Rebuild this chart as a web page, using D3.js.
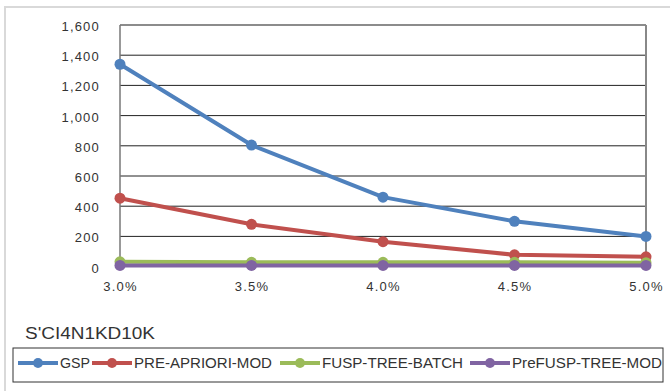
<!DOCTYPE html>
<html><head><meta charset="utf-8">
<script src="https://cdn.jsdelivr.net/npm/d3@7"></script>
<style>
html,body{margin:0;padding:0;background:#fff;}
svg{display:block;}
text{font-family:"Liberation Sans","DejaVu Sans",Arial,sans-serif;fill:#333;}
</style></head>
<body>
<svg id="chart" width="670" height="391"></svg>
<script>
const categories = ["3.0%", "3.5%", "4.0%", "4.5%", "5.0%"];
const seriesNames = ["GSP", "PRE-APRIORI-MOD", "FUSP-TREE-BATCH", "PreFUSP-TREE-MOD"];
const gsp = [1340, 805, 460, 300, 200];
const preApriori = [453, 280, 165, 78, 65];
const fuspBatch = [32, 28, 28, 28, 26];
const preFusp = [8, 8, 8, 8, 8];
const yTicks = [0, 200, 400, 600, 800, 1000, 1200, 1400, 1600];
const colors = ["#4F81BD", "#C0504D", "#9BBB59", "#8064A2"];
const chartTitle = "S'CI4N1KD10K";

const series = [gsp, preApriori, fuspBatch, preFusp];
const svg = d3.select("#chart");

// outer frame
svg.append("rect").attr("x", 5).attr("y", 7).attr("width", 700).attr("height", 420)
  .attr("fill", "none").attr("stroke", "#d9d9d9").attr("stroke-width", 2);

const L = 120, R = 646, T = 25, B = 266.6;
const x = d3.scalePoint().domain(categories).range([L, R]);
const y = d3.scaleLinear().domain([0, 1600]).range([B, T]);

// gridlines
svg.append("g").selectAll("line").data(yTicks.filter(d => d > 0 && d < 1600)).join("line")
  .attr("x1", L).attr("x2", R).attr("y1", d => y(d)).attr("y2", d => y(d))
  .attr("stroke", "#222").attr("stroke-width", 1);
// top and right border
svg.append("line").attr("x1", L).attr("x2", R).attr("y1", y(1600)).attr("y2", y(1600))
  .attr("stroke", "#666").attr("stroke-width", 1.5);
svg.append("line").attr("x1", R).attr("x2", R).attr("y1", T).attr("y2", B)
  .attr("stroke", "#888").attr("stroke-width", 2);
svg.append("line").attr("x1", L).attr("x2", L).attr("y1", T).attr("y2", B)
  .attr("stroke", "#777").attr("stroke-width", 1.5);

// y axis labels
const yAxis = d3.axisLeft(y).tickValues(yTicks).tickSize(0).tickPadding(20).tickFormat(d3.format(","));
const gy = svg.append("g").attr("transform", `translate(${L},0)`).call(yAxis);
gy.select(".domain").remove();
gy.selectAll("text").attr("font-size", 13).attr("fill", "#3a3a3a").attr("letter-spacing", "1.2px")
  .attr("dy", "0.42em").attr("font-family", "Liberation Sans, Arial, sans-serif");

// x axis labels
const xAxis = d3.axisBottom(x).tickSize(0).tickPadding(15);
const gx = svg.append("g").attr("transform", `translate(0,${B})`).call(xAxis);
gx.select(".domain").remove();
gx.selectAll("text").attr("font-size", 13).attr("fill", "#3a3a3a").attr("letter-spacing", "1.2px")
  .attr("font-family", "Liberation Sans, Arial, sans-serif");

// lines
const line = d3.line().x((d, i) => x(categories[i])).y(d => y(d));
series.forEach((s, k) => {
  const g = svg.append("g");
  g.append("path").datum(s).attr("d", line).attr("fill", "none")
    .attr("stroke", colors[k]).attr("stroke-width", 4).attr("stroke-linejoin", "round");
  g.selectAll("circle").data(s).join("circle")
    .attr("cx", (d, i) => x(categories[i])).attr("cy", d => y(d)).attr("r", 5.5)
    .attr("fill", colors[k]);
});

// title
svg.append("text").attr("x", 25).attr("y", 339).attr("font-size", 16)
  .attr("textLength", 130).attr("lengthAdjust", "spacingAndGlyphs").attr("fill", "#3a3a3a")
  .text(chartTitle);

// legend
svg.append("rect").attr("x", 13).attr("y", 348).attr("width", 650).attr("height", 34)
  .attr("fill", "#fff").attr("stroke", "#333").attr("stroke-width", 1);
const legendTextW = [30, 138, 141, 150];
const legendX = [18, 92, 280, 470];
const ly = 363;
seriesNames.forEach((name, k) => {
  const lx = legendX[k];
  svg.append("line").attr("x1", lx).attr("x2", lx + 40).attr("y1", ly).attr("y2", ly)
    .attr("stroke", colors[k]).attr("stroke-width", 4);
  svg.append("circle").attr("cx", lx + 20).attr("cy", ly).attr("r", 5).attr("fill", colors[k]);
  svg.append("text").attr("x", lx + 42).attr("y", ly).attr("dy", "0.36em")
    .attr("font-size", 14).attr("textLength", legendTextW[k]).attr("lengthAdjust", "spacingAndGlyphs")
    .attr("fill", "#3a3a3a").text(name);
});
</script>
</body></html>
